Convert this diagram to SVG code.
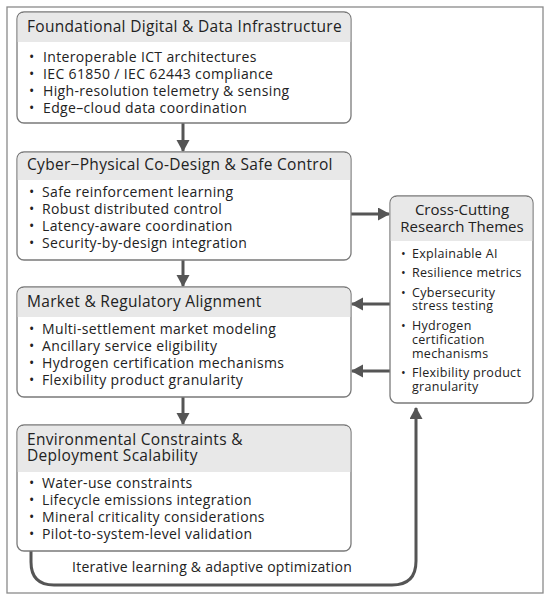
<svg xmlns="http://www.w3.org/2000/svg" width="550" height="602" viewBox="0 0 550 602">
<defs>
<marker id="ah" markerUnits="userSpaceOnUse" markerWidth="14" markerHeight="14" refX="11" refY="6.5" orient="auto">
<path d="M0,0 L12,6.5 L0,13 Z" fill="#555"/>
</marker>
<style>
.box{fill:#fff;stroke:#7a7a7a;stroke-width:1.3}
.hdr{fill:#e8e8e8}
.t{font-family:"Open Sans","DejaVu Sans",sans-serif;fill:#222}
.title{font-size:15.5px;letter-spacing:0.3px}
.rtitle{font-size:15px}
.item{font-size:14px;letter-spacing:0.35px}
.lbl{font-size:14px;letter-spacing:0.25px}
.ritem{font-size:12.5px;letter-spacing:0.3px}
.con{fill:none;stroke:#555;stroke-width:3;marker-end:url(#ah)}
</style>
</defs>
<rect x="0" y="0" width="550" height="602" fill="#fff"/>
<rect x="7" y="7" width="536" height="586" fill="#fff" stroke="#8a8a8a" stroke-width="1.3"/>

<g id="connectors">
<path class="con" d="M183,123 V151"/>
<path class="con" d="M183,260 V286"/>
<path class="con" d="M183,397 V424"/>
<path class="con" d="M351,214 H389"/>
<path class="con" d="M390,304 H352"/>
<path class="con" d="M390,371 H352"/>
<path class="con" d="M31,551 V562 Q31,585 54,585 H392 Q416,585 416,561 V408"/>
</g>

<g id="foundational">
<rect class="box" x="17" y="12" width="334" height="111" rx="7"/>
<path class="hdr" d="M17.7,42 V19 Q17.7,12.7 24,12.7 H344 Q350.3,12.7 350.3,19 V42 Z"/>
<text class="t title" x="27" y="32">Foundational Digital &amp; Data Infrastructure</text>
<text class="t item" x="29" y="62">•</text><text class="t item" x="43" y="62">Interoperable ICT architectures</text>
<text class="t item" x="29" y="79">•</text><text class="t item" x="43" y="79">IEC 61850 / IEC 62443 compliance</text>
<text class="t item" x="29" y="96">•</text><text class="t item" x="43" y="96">High-resolution telemetry &amp; sensing</text>
<text class="t item" x="29" y="113">•</text><text class="t item" x="43" y="113">Edge–cloud data coordination</text>
</g>

<g id="cyberphysical">
<rect class="box" x="17" y="152" width="334" height="108" rx="7"/>
<path class="hdr" d="M17.7,180 V159 Q17.7,152.7 24,152.7 H344 Q350.3,152.7 350.3,159 V180 Z"/>
<text class="t title" x="27" y="170">Cyber−Physical Co-Design &amp; Safe Control</text>
<text class="t item" x="29" y="197">•</text><text class="t item" x="42" y="197">Safe reinforcement learning</text>
<text class="t item" x="29" y="214">•</text><text class="t item" x="42" y="214">Robust distributed control</text>
<text class="t item" x="29" y="231">•</text><text class="t item" x="42" y="231">Latency-aware coordination</text>
<text class="t item" x="29" y="248">•</text><text class="t item" x="42" y="248">Security-by-design integration</text>
</g>

<g id="market">
<rect class="box" x="17" y="287" width="334" height="110" rx="7"/>
<path class="hdr" d="M17.7,317 V294 Q17.7,287.7 24,287.7 H344 Q350.3,287.7 350.3,294 V317 Z"/>
<text class="t title" x="27" y="307">Market &amp; Regulatory Alignment</text>
<text class="t item" x="29" y="334">•</text><text class="t item" x="42" y="334">Multi-settlement market modeling</text>
<text class="t item" x="29" y="351">•</text><text class="t item" x="42" y="351">Ancillary service eligibility</text>
<text class="t item" x="29" y="368">•</text><text class="t item" x="42" y="368">Hydrogen certification mechanisms</text>
<text class="t item" x="29" y="385">•</text><text class="t item" x="42" y="385">Flexibility product granularity</text>
</g>

<g id="environmental">
<rect class="box" x="17" y="425" width="334" height="126" rx="7"/>
<path class="hdr" d="M17.7,472 V432 Q17.7,425.7 24,425.7 H344 Q350.3,425.7 350.3,432 V472 Z"/>
<text class="t title" x="27" y="445">Environmental Constraints &amp;</text>
<text class="t title" x="27" y="461">Deployment Scalability</text>
<text class="t item" x="29" y="488">•</text><text class="t item" x="42" y="488">Water-use constraints</text>
<text class="t item" x="29" y="505">•</text><text class="t item" x="42" y="505">Lifecycle emissions integration</text>
<text class="t item" x="29" y="522">•</text><text class="t item" x="42" y="522">Mineral criticality considerations</text>
<text class="t item" x="29" y="539">•</text><text class="t item" x="42" y="539">Pilot-to-system-level validation</text>
</g>

<g id="crosscutting">
<rect class="box" x="390" y="196" width="143" height="207" rx="7"/>
<path class="hdr" d="M390.7,241 V203 Q390.7,196.7 397,196.7 H526 Q532.3,196.7 532.3,203 V241 Z"/>
<text class="t rtitle" x="462" y="215" text-anchor="middle">Cross-Cutting</text>
<text class="t rtitle" x="462" y="232" text-anchor="middle">Research Themes</text>
<text class="t ritem" x="401" y="258">•</text><text class="t ritem" x="412" y="258">Explainable AI</text>
<text class="t ritem" x="401" y="277">•</text><text class="t ritem" x="412" y="277">Resilience metrics</text>
<text class="t ritem" x="401" y="297">•</text><text class="t ritem" x="412" y="297">Cybersecurity</text>
<text class="t ritem" x="412" y="310">stress testing</text>
<text class="t ritem" x="401" y="330">•</text><text class="t ritem" x="412" y="330">Hydrogen</text>
<text class="t ritem" x="412" y="344">certification</text>
<text class="t ritem" x="412" y="358">mechanisms</text>
<text class="t ritem" x="401" y="377">•</text><text class="t ritem" x="412" y="377">Flexibility product</text>
<text class="t ritem" x="412" y="391">granularity</text>
</g>

<g id="loop-label">
<text class="t lbl" x="72" y="572">Iterative learning &amp; adaptive optimization</text>
</g>
</svg>
